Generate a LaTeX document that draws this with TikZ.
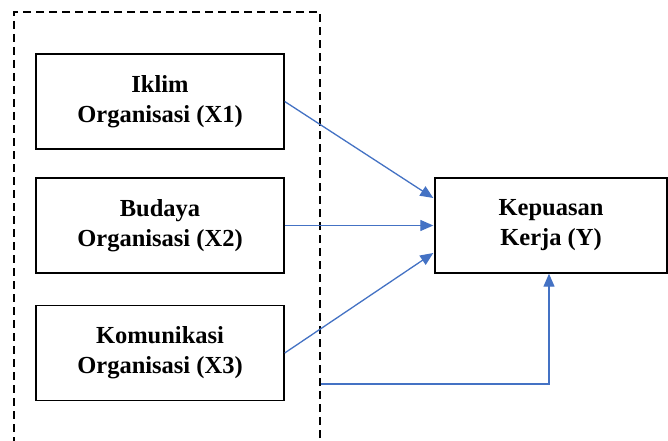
\documentclass[tikz,border=0pt]{standalone}
\usepackage{fontspec}
\setmainfont{Liberation Serif}
\usetikzlibrary{arrows.meta}
\definecolor{linkblue}{HTML}{4472C4}

\begin{document}
\begin{tikzpicture}[x=1pt,y=1pt,
	var/.style={draw,line width=1.4pt,minimum width=248pt,minimum height=95pt,align=center,
		font=\fontsize{24.5}{30}\selectfont\bfseries},
	link/.style={draw=linkblue,line width=1.3pt,-{Triangle[length=13pt,width=11pt]}}]
		\clip (0,0) rectangle (668,440);
		\fill[white] (0,0) rectangle (668,440);
		\node[draw,dash pattern=on 8pt off 5pt,line width=1.2pt,inner sep=0pt,
			minimum width=306pt,minimum height=458pt] (grp) at (167,199) {};
		\node[var] (iklim) at (160,338.5) {Iklim\\Organisasi (X1)};
		\node[var] (budaya) at (160,214.5) {Budaya\\Organisasi (X2)};
		\node[var] (komunikasi) at (160,87) {Komunikasi\\Organisasi (X3)};
		\node[var,minimum width=232pt] (kepuasan) at (551,214.5) {Kepuasan\\Kerja (Y)};
		\coordinate (tap) at (grp.east |- 0,56);
		\draw[link] (iklim.east) -- ([yshift=27.5pt,xshift=-1pt]kepuasan.west);
		\draw[link] (budaya.east) -- ([xshift=-1pt]kepuasan.west);
		\draw[link] (komunikasi.east) -- ([yshift=-27.5pt,xshift=-1pt]kepuasan.west);
		\draw[link] (tap) -| ([xshift=-2pt]kepuasan.south);
\end{tikzpicture}
\end{document}
